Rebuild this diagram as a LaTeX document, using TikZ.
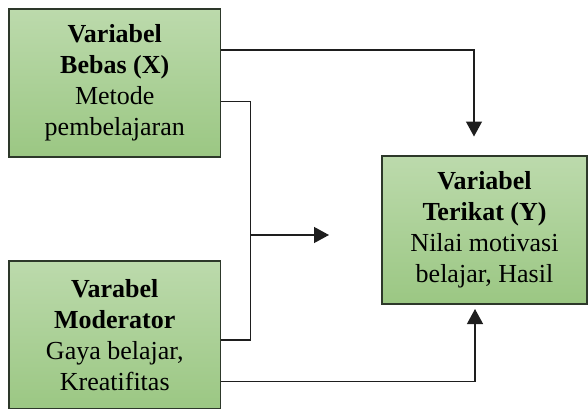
\documentclass[tikz,border=0pt]{standalone}
\usepackage{fontspec}
\setmainfont{Liberation Serif}
\usetikzlibrary{arrows.meta,calc}
\definecolor{gtop}{RGB}{188,218,172}
\definecolor{gbot}{RGB}{155,199,131}
\definecolor{gborder}{RGB}{45,56,42}
\definecolor{lnc}{RGB}{30,30,30}
\tikzset{
  varbox/.style={draw=gborder, line width=1.5pt, top color=gtop, bottom color=gbot,
    minimum height=148pt, inner sep=0pt, align=center,
    font=\fontsize{26pt}{31pt}\selectfont},
  conn/.style={draw=lnc, line width=1.3pt},
  arr/.style={conn, -{Triangle[width=16pt,length=15pt]}}
}
\begin{document}
\begin{tikzpicture}[x=1pt,y=-1pt]
\useasboundingbox (0,0) rectangle (588,408);
\clip (0,0) rectangle (588,408);
\node[varbox, minimum width=211.5pt] (X) at (114.75,83)
  {\textbf{Variabel}\\\textbf{Bebas (X)}\\Metode\\pembelajaran};
\node[varbox, minimum width=211.5pt] (M) at (114.75,335)
  {\textbf{Varabel}\\\textbf{Moderator}\\Gaya belajar,\\Kreatifitas};
\node[varbox, minimum width=205pt] (Y) at (484.5,230)
  {\textbf{Variabel}\\\textbf{Terikat (Y)}\\Nilai motivasi\\belajar, Hasil};
% coordinates
\coordinate (c1) at (474,50);
\coordinate (t1) at (474,136.5);
\coordinate (c2) at (250.5,101.7);
\coordinate (j) at (250.5,235);
\coordinate (t2) at (329,235);
\coordinate (c3) at (250.5,340);
\coordinate (c4) at (475,381.7);
\coordinate (t3) at (475,309);
% connectors
\draw[arr] (X.east |- c1) -- (c1) -- (t1);
\draw[conn] (X.east |- c2) -- (c2) -- (c3) -- (M.east |- c3);
\draw[arr] (j) -- (t2);
\draw[arr] (M.east |- c4) -- (c4) -- (t3);
\end{tikzpicture}
\end{document}
